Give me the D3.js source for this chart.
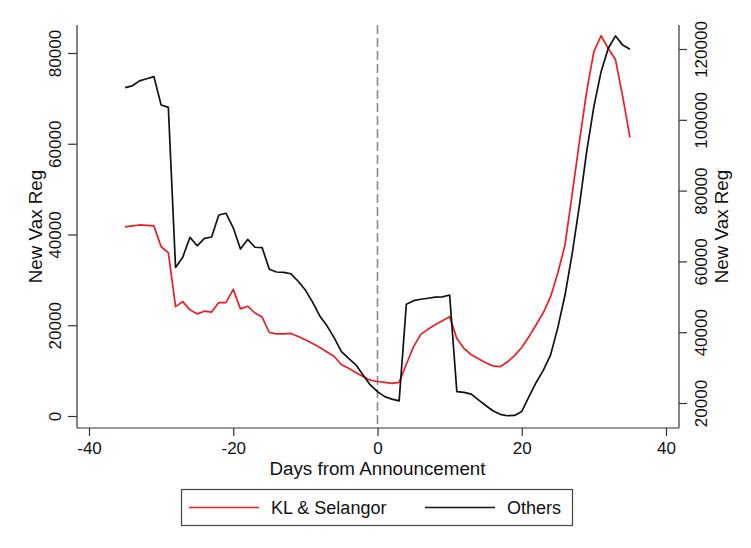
<!DOCTYPE html>
<html>
<head>
<meta charset="utf-8">
<script src="https://cdn.jsdelivr.net/npm/d3@7"></script>
<style>
  html, body { margin: 0; padding: 0; background: #ffffff; }
  svg { display: block; font-family: "Liberation Sans", Arial, sans-serif; }
</style>
</head>
<body>
<svg id="chart" width="751" height="548"></svg>
<script>
// Days relative to the announcement (day 0)
const days = d3.range(-35, 36);

// Daily new vaccine registrations, KL & Selangor (left axis)
const klSelangor = [
  41700, 41900, 42100, 42000, 41900, 37300, 36000, 24100, 25200, 23400,
  22500, 23100, 22900, 25000, 25000, 27900, 23600, 24200, 22700, 21800,
  18400, 18100, 18100, 18200, 17500, 16800, 16000, 15100, 14100, 13100,
  11300, 10500, 9600, 8700, 7900, 7600, 7400, 7200, 7400, 11400,
  15300, 18000, 19100, 20100, 21000, 21900, 17100, 14900, 13500, 12600,
  11750, 11050, 10870, 11900, 13300, 15100, 17500, 20100, 22800, 26300,
  31500, 37700, 49000, 60500, 71500, 80300, 83800, 81000, 78500, 70400,
  61400
];

// Daily new vaccine registrations, other states (right axis)
const others = [
  109100, 109600, 111000, 111600, 112200, 104200, 103500, 58300, 61200, 66800,
  64400, 66500, 66900, 73100, 73600, 69500, 63500, 66200, 64000, 63900,
  57800, 57000, 56900, 56500, 54400, 51900, 48500, 44600, 41800, 38400,
  34500, 32600, 30800, 27900, 25100, 23200, 21800, 21100, 20600, 47900,
  48900, 49300, 49600, 49900, 50000, 50500, 23200, 23000, 22500, 20900,
  19300, 17800, 16800, 16400, 16500, 17600, 21800, 25800, 29300, 33600,
  41300, 50500, 62300, 75900, 91000, 103700, 113600, 120200, 123700, 121100,
  119900
];

// Tick values
const xTicks = [-40, -20, 0, 20, 40];
const yLeftTicks = [0, 20000, 40000, 60000, 80000];
const yRightTicks = [20000, 40000, 60000, 80000, 100000, 120000];

const seriesNames = ["KL & Selangor", "Others"];
const seriesColors = ["#ee1c25", "#111111"];

const svg = d3.select("#chart");

// Plot region
const plot = { left: 77, right: 679, top: 25, bottom: 428 };

const x = d3.scaleLinear().domain([-40, 40]).range([89, 666]);
const yL = d3.scaleLinear().domain([0, 80000]).range([416, 53]);
const yR = d3.scaleLinear().domain([20000, 120000]).range([403, 49]);

const axisColor = "#333333";
const textColor = "#111111";

// Axis frame lines (left, right, bottom)
svg.append("line").attr("x1", plot.left).attr("x2", plot.left)
  .attr("y1", plot.top).attr("y2", plot.bottom)
  .attr("stroke", axisColor).attr("stroke-width", 1.2);
svg.append("line").attr("x1", plot.right).attr("x2", plot.right)
  .attr("y1", plot.top).attr("y2", plot.bottom)
  .attr("stroke", axisColor).attr("stroke-width", 1.2);
svg.append("line").attr("x1", plot.left).attr("x2", plot.right)
  .attr("y1", plot.bottom).attr("y2", plot.bottom)
  .attr("stroke", axisColor).attr("stroke-width", 1.2);

// Bottom axis
const gx = svg.append("g").attr("transform", `translate(0,${plot.bottom})`)
  .call(d3.axisBottom(x).tickValues(xTicks).tickSize(8).tickPadding(6)
    .tickFormat(d3.format("d")));
gx.select(".domain").remove();
gx.selectAll(".tick line").attr("stroke", axisColor).attr("stroke-width", 1.2);
gx.selectAll(".tick text").attr("font-size", 17).attr("fill", textColor)
  .attr("font-family", "Liberation Sans, Arial, sans-serif")
  .text(d => d < 0 ? "-" + Math.abs(d) : d);

// Left axis
const gl = svg.append("g").attr("transform", `translate(${plot.left},0)`)
  .call(d3.axisLeft(yL).tickValues(yLeftTicks).tickSize(9).tickFormat(d3.format("d")));
gl.select(".domain").remove();
gl.selectAll(".tick line").attr("stroke", axisColor).attr("stroke-width", 1.2);
gl.selectAll(".tick text")
  .attr("font-size", 17).attr("fill", textColor)
  .attr("font-family", "Liberation Sans, Arial, sans-serif")
  .attr("x", null).attr("dy", null)
  .attr("text-anchor", "middle")
  .attr("transform", "translate(-16,0) rotate(-90)");

// Right axis
const gr = svg.append("g").attr("transform", `translate(${plot.right},0)`)
  .call(d3.axisRight(yR).tickValues(yRightTicks).tickSize(8).tickFormat(d3.format("d")));
gr.select(".domain").remove();
gr.selectAll(".tick line").attr("stroke", axisColor).attr("stroke-width", 1.2);
gr.selectAll(".tick text")
  .attr("font-size", 17).attr("fill", textColor)
  .attr("font-family", "Liberation Sans, Arial, sans-serif")
  .attr("x", null).attr("dy", null)
  .attr("text-anchor", "middle")
  .attr("transform", "translate(28,0) rotate(-90)");

// Axis titles
svg.append("text")
  .attr("transform", `translate(42,${(plot.top + plot.bottom) / 2}) rotate(-90)`)
  .attr("text-anchor", "middle").attr("font-size", 18.8).attr("fill", textColor)
  .text("New Vax Reg");
svg.append("text")
  .attr("transform", `translate(728,${(plot.top + plot.bottom) / 2}) rotate(-90)`)
  .attr("text-anchor", "middle").attr("font-size", 18.8).attr("fill", textColor)
  .text("New Vax Reg");
svg.append("text")
  .attr("x", x(0)).attr("y", 475)
  .attr("text-anchor", "middle").attr("font-size", 18.8).attr("fill", textColor)
  .text("Days from Announcement");

// Reference line at the announcement day
svg.append("line")
  .attr("x1", x(0)).attr("x2", x(0))
  .attr("y1", plot.top).attr("y2", plot.bottom)
  .attr("stroke", "#8a8a8a").attr("stroke-width", 1.6)
  .attr("stroke-dasharray", "9,4");

// Series lines
const lineL = d3.line().x((d, i) => x(days[i])).y(d => yL(d));
const lineR = d3.line().x((d, i) => x(days[i])).y(d => yR(d));

svg.append("path").datum(klSelangor)
  .attr("d", lineL).attr("fill", "none")
  .attr("stroke", seriesColors[0]).attr("stroke-width", 1.7)
  .attr("stroke-linejoin", "round");

svg.append("path").datum(others)
  .attr("d", lineR).attr("fill", "none")
  .attr("stroke", seriesColors[1]).attr("stroke-width", 1.7)
  .attr("stroke-linejoin", "round");

// Legend
const legend = svg.append("g");
legend.append("rect")
  .attr("x", 181.5).attr("y", 489.5).attr("width", 391).attr("height", 36)
  .attr("fill", "#ffffff").attr("stroke", "#444444").attr("stroke-width", 1.2);

const legendItems = [
  { name: seriesNames[0], color: seriesColors[0], x0: 189, tx: 271 },
  { name: seriesNames[1], color: seriesColors[1], x0: 425, tx: 507 }
];
legendItems.forEach(it => {
  legend.append("line")
    .attr("x1", it.x0).attr("x2", it.x0 + 70)
    .attr("y1", 507.5).attr("y2", 507.5)
    .attr("stroke", it.color).attr("stroke-width", 1.7);
  legend.append("text")
    .attr("x", it.tx).attr("y", 514)
    .attr("font-size", 18).attr("fill", textColor)
    .text(it.name);
});
</script>
</body>
</html>
